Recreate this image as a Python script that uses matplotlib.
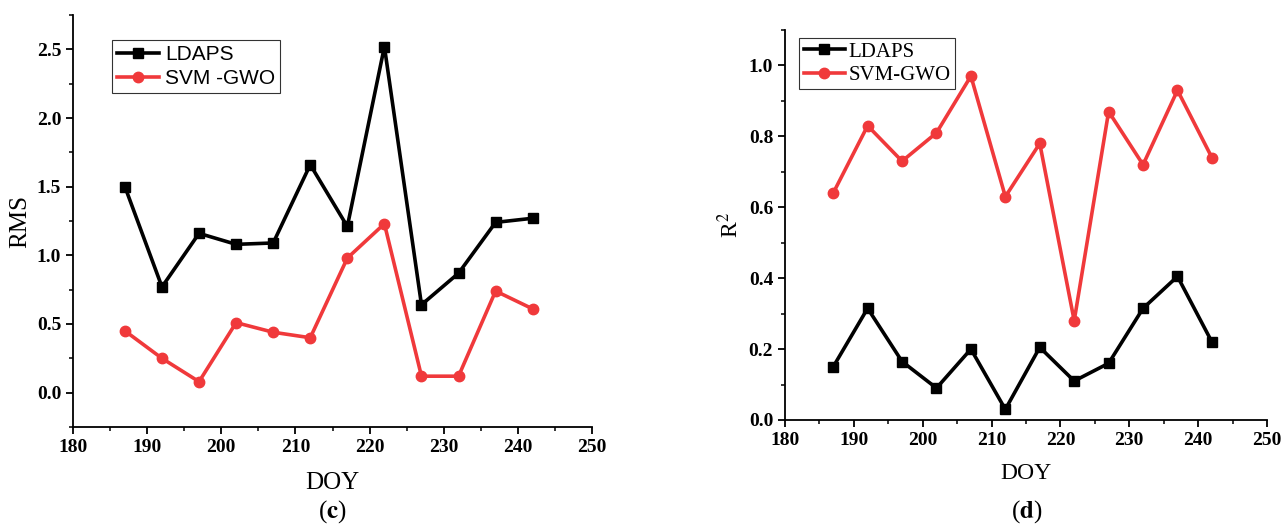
import matplotlib
matplotlib.use("Agg")
import matplotlib.pyplot as plt
from matplotlib.ticker import MultipleLocator

doy = [187, 192, 197, 202, 207, 212, 217, 222, 227, 232, 237, 242]
rms_ldaps = [1.50, 0.77, 1.16, 1.08, 1.09, 1.66, 1.21, 2.52, 0.64, 0.87, 1.24, 1.27]
rms_svm = [0.45, 0.25, 0.08, 0.51, 0.44, 0.40, 0.98, 1.23, 0.12, 0.12, 0.74, 0.61]
r2_ldaps = [0.15, 0.315, 0.165, 0.09, 0.20, 0.03, 0.205, 0.11, 0.16, 0.315, 0.405, 0.22]
r2_svm = [0.64, 0.83, 0.73, 0.81, 0.97, 0.63, 0.78, 0.28, 0.87, 0.72, 0.93, 0.74]

BLACK = "#000000"
RED = "#f0393b"
SERIF = "Liberation Serif"
SANS = "Liberation Sans"
plt.rcParams["mathtext.fontset"] = "stix"

fig = plt.figure(figsize=(12.83, 5.29), dpi=100)
W, H = 1283, 529

def px_axes(x0, x1, ytop, ybot):
    return fig.add_axes([x0 / W, 1 - ybot / H, (x1 - x0) / W, (ybot - ytop) / H])

def style(ax):
    for s in ("top", "right"):
        ax.spines[s].set_visible(False)
    for s in ("left", "bottom"):
        ax.spines[s].set_linewidth(1.3)
    ax.tick_params(which="major", direction="out", length=5, width=1.3, labelsize=14)
    ax.tick_params(which="minor", direction="out", length=3, width=1.1)
    ax.set_xlim(180, 250)
    ax.xaxis.set_major_locator(MultipleLocator(10))
    ax.xaxis.set_minor_locator(MultipleLocator(5))

def font_ticks(ax):
    for lab in ax.get_xticklabels() + ax.get_yticklabels():
        lab.set_fontfamily(SERIF)
        lab.set_fontweight("bold")
        lab.set_fontsize(14)

lw, ms = 2.6, 7.5

# Left panel (c)
ax1 = px_axes(73, 592, 15, 427)
ax1.plot(doy, rms_ldaps, color=BLACK, lw=lw, marker="s", ms=ms, label="LDAPS")
ax1.plot(doy, rms_svm, color=RED, lw=lw, marker="o", ms=ms, label="SVM -GWO")
ax1.set_ylim(-0.25, 2.75)
ax1.yaxis.set_major_locator(MultipleLocator(0.5))
ax1.yaxis.set_minor_locator(MultipleLocator(0.25))
style(ax1)
ax1.set_xlabel("DOY", fontfamily=SERIF, fontsize=18, labelpad=12)
ax1.set_ylabel("RMS", fontfamily=SERIF, fontsize=18, labelpad=4)
leg1 = ax1.legend(loc="upper left", bbox_to_anchor=(0.075, 0.94), frameon=True,
                  fancybox=False, edgecolor="black", prop={"family": SANS, "size": 15},
                  handlelength=2.0, handletextpad=0.3, borderpad=0.25, labelspacing=0.25,
                  borderaxespad=0)
leg1.get_frame().set_linewidth(0.8)
fig.text(332 / W, 1 - 512 / H, r"($\mathbf{c}$)", ha="center", va="center",
         fontfamily=SERIF, fontsize=18)

# Right panel (d)
ax2 = px_axes(785, 1267, 30, 420)
ax2.plot(doy, r2_ldaps, color=BLACK, lw=lw, marker="s", ms=ms, label="LDAPS")
ax2.plot(doy, r2_svm, color=RED, lw=lw, marker="o", ms=ms, label="SVM-GWO")
ax2.set_ylim(0, 1.1)
ax2.yaxis.set_major_locator(MultipleLocator(0.2))
ax2.yaxis.set_minor_locator(MultipleLocator(0.1))
style(ax2)
ax2.set_xlabel("DOY", fontfamily=SERIF, fontsize=17, labelpad=10)
ax2.set_ylabel(r"R$^2$", fontfamily=SERIF, fontsize=17, labelpad=4)
leg2 = ax2.legend(loc="upper left", bbox_to_anchor=(0.03, 0.98), frameon=True,
                  fancybox=False, edgecolor="black", prop={"family": SERIF, "size": 15},
                  handlelength=2.0, handletextpad=0.15, borderpad=0.2, labelspacing=0.2,
                  borderaxespad=0)
leg2.get_frame().set_linewidth(0.8)
fig.text(1027 / W, 1 - 512 / H, r"($\mathbf{d}$)", ha="center", va="center",
         fontfamily=SERIF, fontsize=18)

fig.canvas.draw()
font_ticks(ax1)
font_ticks(ax2)

fig.savefig("out.png", dpi=100, facecolor="white")
